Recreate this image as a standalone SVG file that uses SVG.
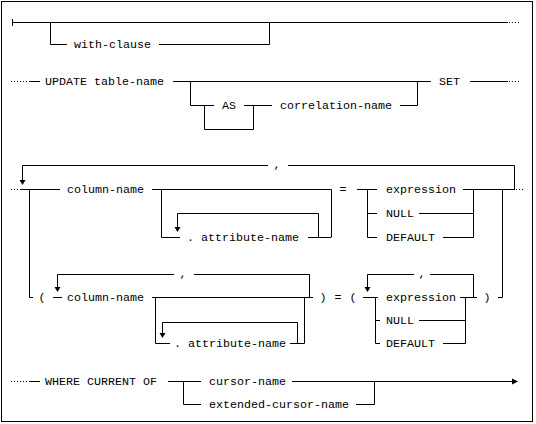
<svg xmlns="http://www.w3.org/2000/svg" width="536" height="424" viewBox="0 0 536 424">
<style>
text{font-family:"Liberation Mono","DejaVu Sans Mono",monospace;font-size:11.67px;fill:#000}
.c text{text-anchor:middle}
.l{fill:none;stroke:#000;stroke-width:1}
.d{fill:none;stroke:#000;stroke-width:1;stroke-dasharray:1,2}
.a{fill:#000;stroke:none}
</style>
<defs>
<path id="ad" d="M-3,-4 H3 L0,1 Z"/>
</defs>
<rect x="1.5" y="1.5" width="531" height="420" fill="#fff" stroke="#000"/>
<g id="connectors">
<!-- row 1 -->
<path class="l" d="M12.5,19 V26 M12,22.5 H508"/>
<path class="d" d="M509,22.5 H519"/>
<path class="l" d="M50.5,22 V44.5 H67 M159,44.5 H269.5 V22"/>
<!-- row 2 -->
<path class="d" d="M11,81.5 H29"/>
<path class="l" d="M29,81.5 H40 M173,81.5 H431"/>
<path class="l" d="M190.5,81 V105.5 H214 M244,105.5 H272 M400,105.5 H417.5 V81"/>
<path class="l" d="M204.5,105 V129.5 H253.5 V105"/>
<path class="l" d="M470,81.5 H508"/>
<path class="d" d="M509,81.5 H519"/>
<!-- row 3 -->
<path class="d" d="M11,189.5 H20"/>
<path class="l" d="M20,189.5 H60 M152,189.5 H331.5 V237 M357,189.5 H377 M367.5,189 V237.5 H377 M367.5,213.5 H377"/>
<path class="l" d="M22.5,184 V165.5 H268 M288,165.5 H514.5 V189.5 M463,189.5 H515"/>
<path class="d" d="M516,189.5 H523"/>
<use href="#ad" x="22.5" y="184"/>
<path class="l" d="M473.5,189 V237.5 H443 M473.5,213.5 H419"/>
<path class="l" d="M161.5,189 V237.5 H180 M308,237.5 H331.5 M318.5,237 V213.5 H177.5 V231"/>
<use href="#ad" x="177.5" y="231"/>
<path class="l" d="M29.5,189 V297.5 H33"/>
<path class="l" d="M502.5,189 V297.5 H498"/>
<!-- row 4 -->
<path class="l" d="M53,297.5 H62 M57.5,291 V274.5 H174 M194,274.5 H309.5 V297.5"/>
<use href="#ad" x="57.5" y="291"/>
<path class="l" d="M152,297.5 H313 M155.5,297 V343.5 H170 M162.5,337 V322.5 H297.5 V343.5 M290,343.5 H304.5 V297"/>
<use href="#ad" x="162.5" y="337"/>
<path class="l" d="M363,297.5 H378 M367.5,291 V274.5 H414 M430,274.5 H473.5 V297.5"/>
<use href="#ad" x="367.5" y="291"/>
<path class="l" d="M375.5,297 V343.5 H380 M375.5,320.5 H380"/>
<path class="l" d="M460,297.5 H477 M465.5,297 V343.5 H443 M465.5,320.5 H419"/>
<!-- row 5 -->
<path class="d" d="M11,381.5 H29"/>
<path class="l" d="M29,381.5 H40 M168,381.5 H201 M183.5,381 V404.5 H201 M292,381.5 H513 M356,404.5 H374.5 V381"/>
<path class="a" d="M518,381.5 L512,378.5 V384.5 Z"/>
</g>
<g id="n-with-clause"><text x="74" y="48">with-clause</text></g>
<g id="n-update"><text x="45" y="85">UPDATE table-name</text></g>
<g id="n-as"><text x="222" y="109">AS</text></g>
<g id="n-correlation-name"><text x="280" y="109">correlation-name</text></g>
<g id="n-set"><text x="439" y="85">SET</text></g>
<g id="n-comma1" class="c"><text x="277" y="168">,</text></g>
<g id="n-column-name1"><text x="67" y="193">column-name</text></g>
<g id="n-attribute-name1"><text x="187" y="241">. attribute-name</text></g>
<g id="n-eq1" class="c"><text x="343" y="193">=</text></g>
<g id="n-expression1"><text x="386" y="193">expression</text></g>
<g id="n-null1"><text x="386" y="217">NULL</text></g>
<g id="n-default1"><text x="386" y="241">DEFAULT</text></g>
<g id="n-lparen1" class="c"><text x="42" y="301">(</text></g>
<g id="n-comma2" class="c"><text x="183" y="277">,</text></g>
<g id="n-column-name2"><text x="67" y="301">column-name</text></g>
<g id="n-attribute-name2"><text x="174" y="347">. attribute-name</text></g>
<g id="n-rparen1" class="c"><text x="323" y="301">)</text></g>
<g id="n-eq2" class="c"><text x="338" y="301">=</text></g>
<g id="n-lparen2" class="c"><text x="353" y="301">(</text></g>
<g id="n-comma3" class="c"><text x="422" y="277">,</text></g>
<g id="n-expression2"><text x="386" y="301">expression</text></g>
<g id="n-null2"><text x="386" y="324">NULL</text></g>
<g id="n-default2"><text x="386" y="347">DEFAULT</text></g>
<g id="n-rparen2" class="c"><text x="487" y="301">)</text></g>
<g id="n-where"><text x="45" y="385">WHERE CURRENT OF</text></g>
<g id="n-cursor-name"><text x="209" y="385">cursor-name</text></g>
<g id="n-extended-cursor-name"><text x="209" y="408">extended-cursor-name</text></g>
</svg>
